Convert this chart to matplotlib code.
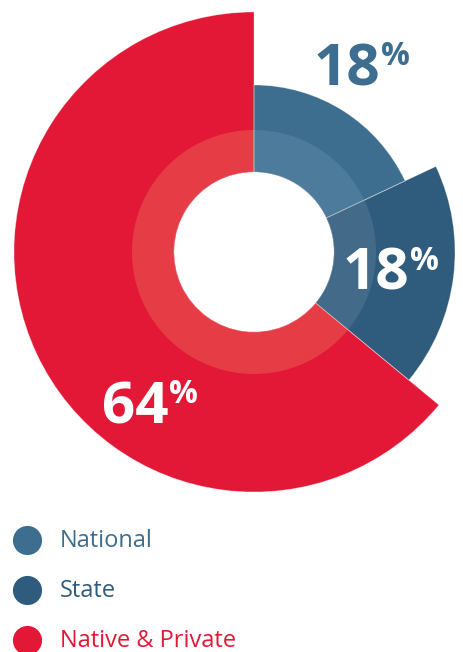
import matplotlib.pyplot as plt

categories = ["National", "State", "Native & Private"]
shares = [18, 18, 64]
labels = ["18", "18", "64"]

colors = ["#3d6e8f", "#2f5c7d", "#e31837"]
inner_colors = ["#4d7b9c", "#436a89", "#e63c45"]
outer_r = [167, 201, 240]
hole_r = 80
inner_ring_r = 122

W, H = 463, 652
cx, cy = 254, H - 252

fig = plt.figure(figsize=(W / 100, H / 100), dpi=100)
ax = fig.add_axes([0, 0, 1, 1])

# one pie per segment so each can have its own outer radius
for i in range(len(shares)):
    cols = ["none"] * len(shares)
    cols[i] = colors[i]
    wedges, _ = ax.pie(shares, radius=outer_r[i], colors=cols, startangle=90,
                       counterclock=False, center=(cx, cy),
                       wedgeprops=dict(width=outer_r[i] - hole_r, linewidth=0))

# lighter inner band
ax.pie(shares, radius=inner_ring_r, colors=inner_colors, startangle=90,
       counterclock=False, center=(cx, cy),
       wedgeprops=dict(width=inner_ring_r - hole_r, linewidth=0))

# thin light separators
for i in range(len(shares)):
    cols = ["none"] * len(shares)
    wedges, _ = ax.pie(shares, radius=outer_r[i], colors=cols, startangle=90,
                       counterclock=False, center=(cx, cy),
                       wedgeprops=dict(width=outer_r[i] - hole_r, linewidth=0))
    for j, w in enumerate(wedges):
        if j != i:
            w.set_visible(False)
        else:
            w.set_edgecolor((1, 1, 1, 0.35))
            w.set_linewidth(0.6)

ax.set_xlim(0, W)
ax.set_ylim(0, H)
ax.set_aspect("equal")
ax.axis("off")

font = "Open Sans"
# percentage labels (number + raised percent sign)
pos = [(314, H - 85, "#3d6e8f"), (343, H - 290, "white"), (102, H - 423, "white")]
for lab, (x, y, c) in zip(labels, pos):
    ax.text(x, y, lab, fontsize=42, fontweight="bold", color=c,
            family=font, ha="left", va="baseline")
    ax.text(x + 67, y + 20, "%", fontsize=23, fontweight="bold", color=c,
            family=font, ha="left", va="baseline")

# legend
for k, (name, c) in enumerate(zip(categories, colors)):
    ly = H - (540 + 50 * k)
    ax.scatter([27], [ly], s=440, color=c, linewidths=0)
    ax.text(60, ly - 1, name, fontsize=17, color=c, family=font,
            ha="left", va="center")

fig.savefig("out.png", dpi=100)
